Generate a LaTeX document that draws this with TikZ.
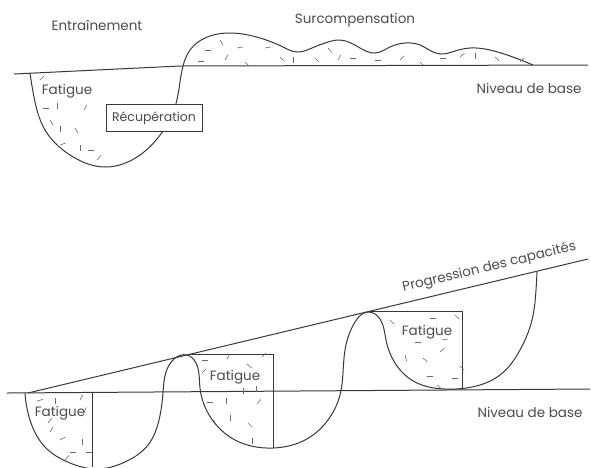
\documentclass[tikz,border=0pt]{standalone}
\usepackage{fontspec}
\setmainfont{Poppins}
\usepackage{tikz}
\usetikzlibrary{calc, hobby}

\definecolor{trait}{gray}{0.22}
\definecolor{texte}{gray}{0.3}

\tikzset{
	courbe/.style = {draw = trait, line width = 1pt, use Hobby shortcut},
	niveau/.style = {draw = trait, line width = 1pt},
	grain/.style = {draw = trait!75, line width = 0.6pt},
	etiquette/.style = {text = texte, font = \fontsize{13.5}{16}\selectfont, inner sep = 1pt}
}

\begin{document}
\begin{tikzpicture}[x = 1pt, y = -1pt]
		\useasboundingbox (0,0) rectangle (591,467);
		
		% partie haute
		\coordinate (baseA) at (14,74);
		\coordinate (baseB) at (588,65);
		\draw[niveau] (baseA) -- (180,66) -- (baseB);
		
		\draw[courbe] (30,73) .. (34,97) .. (45,130) .. (70,155) .. (105,167) .. (140,155)
			.. (163,131) .. (175,107) .. (180,82) .. (183,66) .. (190,50) .. (205,38)
			.. (230,33) .. (260,38) .. (283,47) .. (297,52) .. (312,48) .. (328,42)
			.. (340,40) .. (360,48) .. (375,53) .. (390,47) .. (405,43) .. (420,45)
			.. (440,54) .. (455,51) .. (470,48) .. (490,50) .. (510,56) .. (533,65);
		
		\foreach \x/\y/\a in {40/80/-45, 57/103/90, 43/108/0, 84/110/-60, 50/120/60,
				60/126/90, 75/128/60, 80/145/90, 88/150/0, 97/160/-50, 60/145/-20,
				220/40/60, 205/50/0, 237/48/-10, 198/61/0, 225/60/-60, 245/62/45,
				265/48/-10, 280/57/45, 293/57/90, 315/58/45, 328/48/50, 338/60/-60,
				350/58/0, 375/60/0, 400/60/-45, 420/62/45, 440/58/0, 460/57/-40,
				475/53/90, 495/57/45, 520/62/-45}
			\draw[grain] (\x,\y) -- ++(\a:6);
		
		\node[etiquette] (entrainement) at (97,25) {Entraînement};
		\node[etiquette] (surcomp) at (355,20) {Surcompensation};
		\node[etiquette] (niveauA) at (529,88) {Niveau de base};
		\node[etiquette] (fatigueA) at (67,91) {Fatigue};
		\node[etiquette, font = \fontsize{12.5}{15}\selectfont, draw = trait, line width = 1pt,
			fill = white, minimum width = 96pt, minimum height = 27pt] (recup) at (154,118) {Récupération};
		
		% partie basse
		\coordinate (baseC) at (7,393);
		\coordinate (baseD) at (590,389);
		\coordinate (progA) at (28,393);
		\coordinate (progB) at (588,259);
		\draw[niveau] (baseC) -- (baseD);
		\draw[niveau] (progA) -- (progB)
			node[etiquette, pos = 0.83, sloped, above = 6pt] (progression) {Progression des capacités};
		
		\draw[courbe] (25,393) .. (30,420) .. (45,447) .. (70,463) .. (97,469) .. (125,462)
			.. (148,445) .. (159,420) .. (163,393) .. (166,372) .. (174,359) .. (187,355)
			.. (196,363) .. (200,388) .. (211,418) .. (235,440) .. (273,448) .. (305,440)
			.. (328,420) .. (340,395) .. (345,350) .. (355,322) .. (368,312) .. (380,319)
			.. (386,340) .. (395,363) .. (415,382) .. (445,389) .. (472,387) .. (500,375)
			.. (520,350) .. (532,320) .. (536,290) .. (537,272);
		
		% cases de fatigue
		\draw[niveau] (92,393) -- (92,467);
		\draw[niveau] (190,354) -- (273,354) -- (273,448);
		\draw[niveau] (370,311) -- (462,311) -- (462,389);
		
		\foreach \x/\y/\a in {37/401/-15, 55/398/90, 80/400/-60, 84/413/-70, 48/423/-50,
				50/432/-60, 60/440/-30, 82/439/90, 70/452/0, 86/452/0, 65/460/-50,
				202/360/0, 227/359/-60, 247/364/40, 262/357/-45, 202/373/-45, 243/388/90,
				256/386/90, 207/402/0, 226/398/90, 257/404/-50, 230/415/90, 211/418/45,
				248/423/45, 252/438/90,
				390/320/45, 430/318/0, 455/315/45, 415/342/0, 442/340/-10, 405/355/75,
				423/358/40, 440/352/-40, 460/366/45, 427/376/0, 452/378/0, 437/385/40}
			\draw[grain] (\x,\y) -- ++(\a:6);
		
		\node[etiquette] (fatigueB) at (60,413) {Fatigue};
		\node[etiquette] (fatigueC) at (235,377) {Fatigue};
		\node[etiquette] (fatigueD) at (427,332) {Fatigue};
		\node[etiquette] (niveauB) at (530,412) {Niveau de base};
	\end{tikzpicture}
\end{document}
